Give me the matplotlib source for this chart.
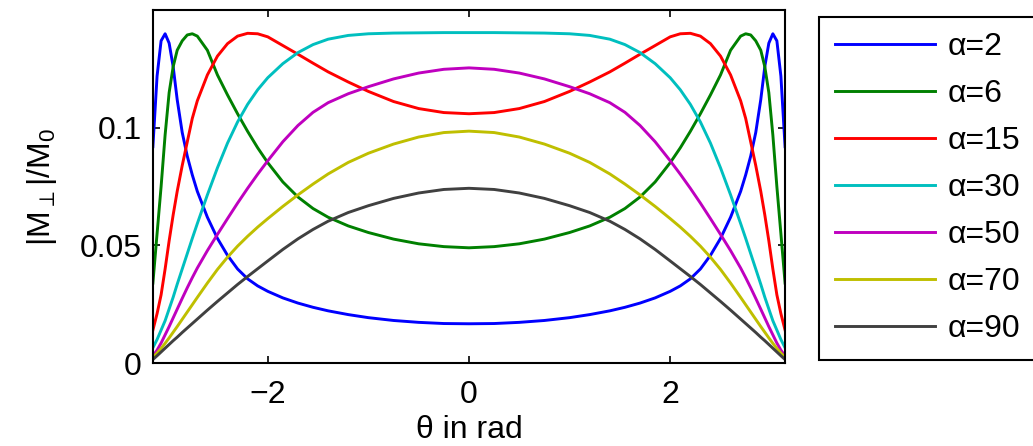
import numpy as np
import matplotlib
matplotlib.use('Agg')
import matplotlib.pyplot as plt

plt.rcParams['font.family'] = ['Liberation Sans', 'DejaVu Sans']
plt.rcParams['mathtext.default'] = 'regular'

# theta (rad) and |M_perp|/M0
theta = [-3.1416, -3.10, -3.06, -3.02, -2.98, -2.94, -2.90, -2.85, -2.80, -2.75, -2.70,
         -2.60, -2.50, -2.40, -2.30, -2.20, -2.10, -2.00, -1.85, -1.70, -1.55, -1.40,
         -1.20, -1.00, -0.75, -0.50, -0.25, 0.0, 0.25, 0.50, 0.75, 1.00, 1.20, 1.40,
         1.55, 1.70, 1.85, 2.00, 2.10, 2.20, 2.30, 2.40, 2.50, 2.60, 2.70, 2.75, 2.80,
         2.85, 2.90, 2.94, 2.98, 3.02, 3.06, 3.10, 3.1416]

a2 = [0.092, 0.122, 0.137, 0.140, 0.136, 0.126, 0.112, 0.098, 0.088, 0.080, 0.073,
      0.062, 0.053, 0.0458, 0.040, 0.0358, 0.0328, 0.0305, 0.0277, 0.0255, 0.0237, 0.0222,
      0.0206, 0.0193, 0.0181, 0.0173, 0.0168, 0.0167,
      0.0168, 0.0173, 0.0181, 0.0193, 0.0206, 0.0222, 0.0237, 0.0255, 0.0277, 0.0305,
      0.0328, 0.0358, 0.040, 0.0458, 0.053, 0.062, 0.073, 0.080, 0.088, 0.098, 0.112,
      0.126, 0.136, 0.140, 0.137, 0.122, 0.092]

a6 = [0.034, 0.055, 0.075, 0.097, 0.115, 0.126, 0.133, 0.137, 0.1395, 0.140, 0.139,
      0.133, 0.1225, 0.114, 0.106, 0.0985, 0.0915, 0.0852, 0.077, 0.0706, 0.0657, 0.062,
      0.0583, 0.0555, 0.0527, 0.0507, 0.0495, 0.049,
      0.0495, 0.0507, 0.0527, 0.0555, 0.0583, 0.062, 0.0657, 0.0706, 0.077, 0.0852,
      0.0915, 0.0985, 0.106, 0.114, 0.1225, 0.133, 0.139, 0.140, 0.1395, 0.137, 0.133,
      0.126, 0.115, 0.097, 0.075, 0.055, 0.034]

a15 = [0.014, 0.021, 0.029, 0.040, 0.052, 0.063, 0.073, 0.084, 0.094, 0.104, 0.1115,
       0.1225, 0.1305, 0.1358, 0.139, 0.1402, 0.140, 0.1387, 0.135, 0.1313, 0.1275, 0.1238,
       0.1195, 0.1155, 0.1112, 0.1082, 0.1065, 0.106,
       0.1065, 0.1082, 0.1112, 0.1155, 0.1195, 0.1238, 0.1275, 0.1313, 0.135, 0.1387,
       0.140, 0.1402, 0.139, 0.1358, 0.1305, 0.1225, 0.1115, 0.104, 0.094, 0.084, 0.073,
       0.063, 0.052, 0.040, 0.029, 0.021, 0.014]

a30 = [0.0065, 0.010, 0.014, 0.018, 0.023, 0.028, 0.0335, 0.040, 0.0465, 0.053, 0.0593,
       0.0715, 0.083, 0.0935, 0.1025, 0.110, 0.1162, 0.1213, 0.1273, 0.132, 0.1354, 0.1377,
       0.1393, 0.140, 0.1403, 0.1404, 0.1405, 0.1405,
       0.1405, 0.1404, 0.1403, 0.140, 0.1393, 0.1377, 0.1354, 0.132, 0.1273, 0.1213,
       0.1162, 0.110, 0.1025, 0.0935, 0.083, 0.0715, 0.0593, 0.053, 0.0465, 0.040, 0.0335,
       0.028, 0.023, 0.018, 0.014, 0.010, 0.0065]

a50 = [0.003, 0.0055, 0.0085, 0.012, 0.0155, 0.0192, 0.0229, 0.0275, 0.032, 0.0363, 0.0404,
       0.0478, 0.0547, 0.0614, 0.068, 0.0743, 0.0803, 0.086, 0.0941, 0.101, 0.1066, 0.1107,
       0.1145, 0.1175, 0.1208, 0.1233, 0.1249, 0.1255,
       0.1249, 0.1233, 0.1208, 0.1175, 0.1145, 0.1107, 0.1066, 0.101, 0.0941, 0.086,
       0.0803, 0.0743, 0.068, 0.0614, 0.0547, 0.0478, 0.0404, 0.0363, 0.032, 0.0275, 0.0229,
       0.0192, 0.0155, 0.012, 0.0085, 0.0055, 0.003]

a70 = [0.0025, 0.0042, 0.0062, 0.0084, 0.0107, 0.0131, 0.0155, 0.0186, 0.0217, 0.0248, 0.0279,
       0.034, 0.0398, 0.045, 0.0497, 0.0539, 0.0578, 0.0614, 0.0666, 0.0715, 0.0761, 0.0804,
       0.0853, 0.0892, 0.0931, 0.0961, 0.098, 0.0986,
       0.098, 0.0961, 0.0931, 0.0892, 0.0853, 0.0804, 0.0761, 0.0715, 0.0666, 0.0614,
       0.0578, 0.0539, 0.0497, 0.045, 0.0398, 0.034, 0.0279, 0.0248, 0.0217, 0.0186, 0.0155,
       0.0131, 0.0107, 0.0084, 0.0062, 0.0042, 0.0025]

a90 = [0.0015, 0.0031, 0.0047, 0.0063, 0.0079, 0.0095, 0.011, 0.013, 0.0149, 0.0168, 0.0187,
       0.0225, 0.0262, 0.0298, 0.0334, 0.0368, 0.0401, 0.0434, 0.0483, 0.0528, 0.0568, 0.0603,
       0.064, 0.0669, 0.070, 0.0723, 0.0738, 0.0743,
       0.0738, 0.0723, 0.070, 0.0669, 0.064, 0.0603, 0.0568, 0.0528, 0.0483, 0.0434,
       0.0401, 0.0368, 0.0334, 0.0298, 0.0262, 0.0225, 0.0187, 0.0168, 0.0149, 0.013, 0.011,
       0.0095, 0.0079, 0.0063, 0.0047, 0.0031, 0.0015]

series = [a2, a6, a15, a30, a50, a70, a90]
labels = ['α=2', 'α=6', 'α=15', 'α=30', 'α=50', 'α=70', 'α=90']
colors = [(0, 0, 1), (0, 0.5, 0), (1, 0, 0), (0, 0.75, 0.75),
          (0.75, 0, 0.75), (0.75, 0.75, 0), (0.25, 0.25, 0.25)]

fs = 23
fig = plt.figure(figsize=(10.33, 4.46), dpi=100)
ax = fig.add_axes([0.148, 0.186, 0.612, 0.791])

for y, lab, c in zip(series, labels, colors):
    ax.plot(theta, y, color=c, lw=2.1, label=lab)

ax.set_xlim(-np.pi, np.pi)
ax.set_ylim(0, 0.15)
ax.set_xticks([-2, 0, 2])
ax.set_xticklabels(['\u22122', '0', '2'])
ax.set_yticks([0, 0.05, 0.1])
ax.set_yticklabels(['0', '0.05', '0.1'])
ax.tick_params(direction='in', top=True, right=True, length=5, width=1.2,
               labelsize=fs)
ax.tick_params(axis='x', pad=12.5)
ax.tick_params(axis='y', pad=8)
for s in ax.spines.values():
    s.set_linewidth(1.5)

ax.set_xlabel('θ in rad', fontsize=fs, labelpad=3.5)
ax.set_ylabel(r'$|M_{\perp}|/M_0$', fontsize=fs, labelpad=15)

leg = fig.legend(loc='upper left', bbox_to_anchor=(0.793, 0.963), fontsize=fs,
                 frameon=True, fancybox=False, framealpha=1, edgecolor='k',
                 handlelength=3.13, handletextpad=0.38, labelspacing=0.53,
                 borderpad=0.5, borderaxespad=0)
leg.get_frame().set_linewidth(1.5)

fig.savefig('out.png', dpi=100)
